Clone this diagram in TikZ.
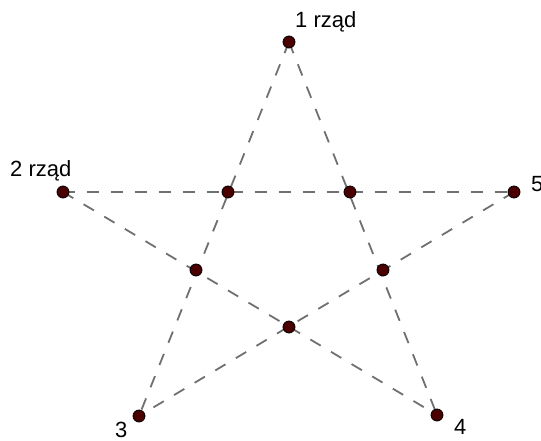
\documentclass[tikz,border=0pt]{standalone}
\usepackage{fontspec}
\setmainfont{Liberation Sans}
\usetikzlibrary{calc}

\definecolor{dotred}{HTML}{4A0000}
\definecolor{linegray}{HTML}{707070}

\begin{document}
\begin{tikzpicture}[x=1pt,y=-1pt,
    starline/.style={linegray,line width=1.8pt,dash pattern=on 12pt off 12pt},
    dot/.style={circle,fill=dotred,draw=black,line width=0.8pt,minimum size=12pt,inner sep=0pt},
    lbl/.style={anchor=base west,inner sep=0pt,font=\fontsize{22}{26}\selectfont}]
  \useasboundingbox (0,0) rectangle (541,441);

  % outer tips of the star
  \coordinate (top)   at (289,42);
  \coordinate (left)  at (63,192);
  \coordinate (right) at (514,192);
  \coordinate (bl)    at (139,416);
  \coordinate (br)    at (437,415);
  % inner crossings
  \coordinate (il)  at (228,192);
  \coordinate (ir)  at (350,192);
  \coordinate (ml)  at (196,270);
  \coordinate (mr)  at (383,270);
  \coordinate (mid) at (289,327);

  % dashed star lines (drawn first)
  \draw[starline] (top) -- (bl);
  \draw[starline] (top) -- (br);
  \draw[starline] (left) -- (right);
  \draw[starline] (left) -- (br);
  \draw[starline] (right) -- (bl);

  % points on top
  \foreach \P in {top,left,right,bl,br,il,ir,ml,mr,mid}{
    \node[dot] (d\P) at (\P) {};
  }

  % labels
  \node[lbl] (ltop)   at (295,28)  {1 rząd};
  \node[lbl] (lleft)  at (10,177)  {2 rząd};
  \node[lbl] (lright) at (531,191) {5};
  \node[lbl] (lbl)    at (115,437) {3};
  \node[lbl] (lbr)    at (454,434) {4};
\end{tikzpicture}
\end{document}
